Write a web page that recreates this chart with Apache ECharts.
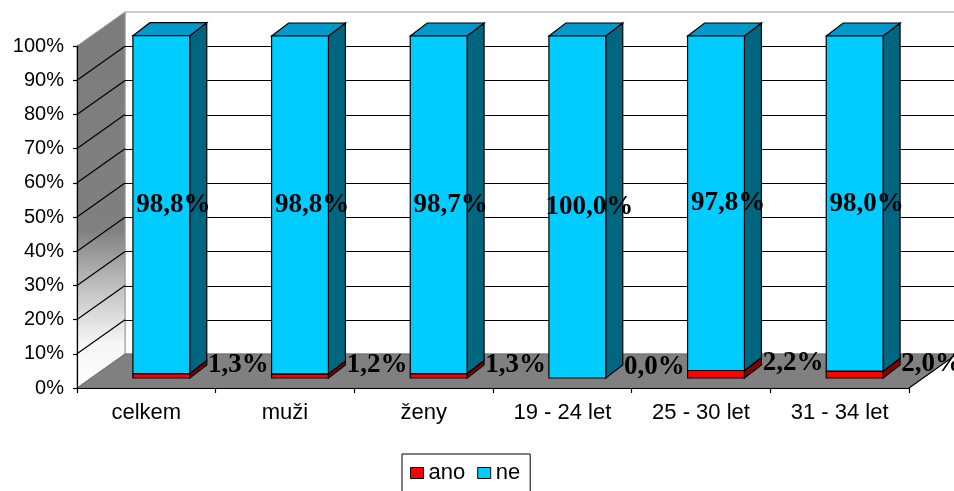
<!DOCTYPE html>
<html>
<head>
<meta charset="utf-8">
<script src="https://cdn.jsdelivr.net/npm/echarts@6/dist/echarts.min.js"></script>
<style>
  html, body { margin: 0; padding: 0; background: #fff; }
  #chart { width: 954px; height: 491px; }
</style>
</head>
<body>
<div id="chart"></div>
<script>
// Categories and shares (percent) of answers "ano" / "ne"
const categories = ['celkem', 'muži', 'ženy', '19 - 24 let', '25 - 30 let', '31 - 34 let'];
const anoValues = [1.3, 1.2, 1.3, 0.0, 2.2, 2.0];
const neValues = [98.8, 98.8, 98.7, 100.0, 97.8, 98.0];
const yMin = 0, yMax = 100, yStep = 10;

// Pseudo-3D geometry
const WALL_DX = 48, WALL_DY = -34;     // depth of the chart box
const BAR_SHIFT_X = 15, BAR_SHIFT_Y = -10; // bars sit slightly behind the front plane
const BAR_DX = 17, BAR_DY = -13;       // depth of each bar
const BAR_RATIO = 0.41;                // bar width relative to category band

const COLORS = {
  ano: { front: '#ff0000', side: '#800000', top: '#c00000' },
  ne: { front: '#00ccff', side: '#006680', top: '#0099cc' }
};

const SANS = '"Liberation Sans", Arial, sans-serif';
const fmt = v => v.toFixed(1).replace('.', ',') + '%';
const px = v => Math.round(v) + 0.5;

function renderWalls(params, api) {
  const n = categories.length;
  const band = api.size([1, 0])[0];
  const xl = api.coord([0, 0])[0] - band / 2;
  const xr = api.coord([n - 1, 0])[0] + band / 2;
  const yAt = v => api.coord([0, v])[1];
  const children = [];
  // back wall
  children.push({
    type: 'polygon',
    shape: { points: [[xl + WALL_DX, yAt(yMax) + WALL_DY], [xr + WALL_DX, yAt(yMax) + WALL_DY],
                      [xr + WALL_DX, yAt(yMin) + WALL_DY], [xl + WALL_DX, yAt(yMin) + WALL_DY]] },
    style: { fill: '#ffffff', stroke: '#9a9a9a', lineWidth: 1 }
  });
  // side wall with gray-to-white gradient
  children.push({
    type: 'polygon',
    shape: { points: [[xl, yAt(yMax)], [xl + WALL_DX, yAt(yMax) + WALL_DY],
                      [xl + WALL_DX, yAt(yMin) + WALL_DY], [xl, yAt(yMin)]] },
    style: {
      fill: new echarts.graphic.LinearGradient(0, 0, 0, 1, [
        { offset: 0, color: '#7c7c7c' },
        { offset: 0.58, color: '#808080' },
        { offset: 0.74, color: '#c4c4c4' },
        { offset: 0.88, color: '#f6f6f6' },
        { offset: 1, color: '#ffffff' }
      ]),
      stroke: '#9a9a9a', lineWidth: 1
    }
  });
  // gridlines on side and back walls
  for (let v = yMin + yStep; v < yMax; v += yStep) {
    const yf = yAt(v), yb = yAt(v) + WALL_DY;
    children.push({
      type: 'line',
      shape: { x1: xl, y1: yf, x2: xl + WALL_DX, y2: yb },
      style: { stroke: '#000', lineWidth: 1.2 }
    });
    children.push({
      type: 'line',
      shape: { x1: xl + WALL_DX, y1: px(yb), x2: xr + WALL_DX, y2: px(yb) },
      style: { stroke: '#000', lineWidth: 1 }
    });
  }
  // floor
  children.push({
    type: 'polygon',
    shape: { points: [[xl, yAt(yMin)], [xr, yAt(yMin)], [xr + WALL_DX, yAt(yMin) + WALL_DY], [xl + WALL_DX, yAt(yMin) + WALL_DY]] },
    style: { fill: '#808080', stroke: '#707070', lineWidth: 1 }
  });
  children.push({
    type: 'line',
    shape: { x1: xr, y1: yAt(yMin), x2: xr + WALL_DX, y2: yAt(yMin) + WALL_DY },
    style: { stroke: '#000', lineWidth: 1.2 }
  });
  return { type: 'group', children };
}

function makeBarRenderer(key, isTop, labelDX, labelDY) {
  return function (params, api) {
    const i = api.value(0), y0 = api.value(1), y1 = api.value(2), val = api.value(3);
    const band = api.size([1, 0])[0];
    const w = band * BAR_RATIO;
    const c0 = api.coord([i, y0]);
    const c1 = api.coord([i, y1]);
    const cx = c0[0] + BAR_SHIFT_X;
    const xl = cx - w / 2, xr = cx + w / 2;
    const yb = c0[1] + BAR_SHIFT_Y, yt = c1[1] + BAR_SHIFT_Y;
    const col = COLORS[key];
    const children = [];
    if (val > 0) {
      children.push({
        type: 'polygon',
        shape: { points: [[xr, yt], [xr + BAR_DX, yt + BAR_DY], [xr + BAR_DX, yb + BAR_DY], [xr, yb]] },
        style: { fill: col.side, stroke: '#000', lineWidth: 1.2 }
      });
      if (isTop) {
        children.push({
          type: 'polygon',
          shape: { points: [[xl, yt], [xl + BAR_DX, yt + BAR_DY], [xr + BAR_DX, yt + BAR_DY], [xr, yt]] },
          style: { fill: col.top, stroke: '#000', lineWidth: 1.2 }
        });
      }
      children.push({
        type: 'rect',
        shape: { x: xl, y: yt, width: w, height: yb - yt },
        style: { fill: col.front, stroke: '#000', lineWidth: 1.2 }
      });
    }
    children.push({
      type: 'text',
      z2: 100,
      style: {
        text: fmt(val),
        x: cx + labelDX,
        y: (yb + yt) / 2 + labelDY,
        align: 'center',
        verticalAlign: 'middle',
        font: 'bold 27px "Liberation Serif", "Times New Roman", serif',
        fill: '#000'
      }
    });
    return { type: 'group', children };
  };
}

const anoData = categories.map((c, i) => [i, 0, anoValues[i], anoValues[i]]);
const neData = categories.map((c, i) => [i, anoValues[i], anoValues[i] + neValues[i], neValues[i]]);

const chart = echarts.init(document.getElementById('chart'), null, { renderer: 'canvas' });
chart.setOption({
  animation: false,
  backgroundColor: '#ffffff',
  textStyle: { fontFamily: SANS, color: '#000' },
  grid: { left: 77, right: 45, top: 46, bottom: 103 },
  xAxis: {
    type: 'category',
    data: categories,
    boundaryGap: true,
    z: 3,
    axisLine: { show: true, lineStyle: { color: '#000', width: 1.2 } },
    axisTick: { show: true, length: 5, lineStyle: { color: '#000', width: 1.2 } },
    axisLabel: { fontSize: 22, color: '#000', margin: 14, fontFamily: SANS },
    splitLine: { show: false }
  },
  yAxis: {
    type: 'value',
    min: yMin, max: yMax, interval: yStep,
    z: 3,
    axisLine: { show: true, lineStyle: { color: '#000', width: 1.2 } },
    axisTick: { show: true, length: 4, lineStyle: { color: '#000', width: 1.2 } },
    axisLabel: { fontSize: 20, color: '#000', margin: 13, formatter: '{value}%', fontFamily: SANS },
    splitLine: { show: false }
  },
  legend: {
    data: ['ano', 'ne'],
    left: 402, top: 454,
    icon: 'rect',
    itemWidth: 13, itemHeight: 11, itemGap: 12,
    padding: [8, 10, 14, 8],
    borderColor: '#000', borderWidth: 1,
    itemStyle: { borderColor: '#000', borderWidth: 1 },
    textStyle: { fontSize: 22, color: '#000', fontFamily: SANS }
  },
  series: [
    {
      type: 'custom', name: 'walls', z: 1, silent: true,
      data: [[0, 0]], encode: { x: 0, y: 1 },
      renderItem: renderWalls
    },
    {
      type: 'custom', name: 'ano', z: 5,
      itemStyle: { color: COLORS.ano.front },
      data: anoData, encode: { x: 0, y: [1, 2] },
      renderItem: makeBarRenderer('ano', false, 77, -11)
    },
    {
      type: 'custom', name: 'ne', z: 6,
      itemStyle: { color: COLORS.ne.front },
      data: neData, encode: { x: 0, y: [1, 2] },
      renderItem: makeBarRenderer('ne', true, 12, 0)
    }
  ]
});
</script>
</body>
</html>
